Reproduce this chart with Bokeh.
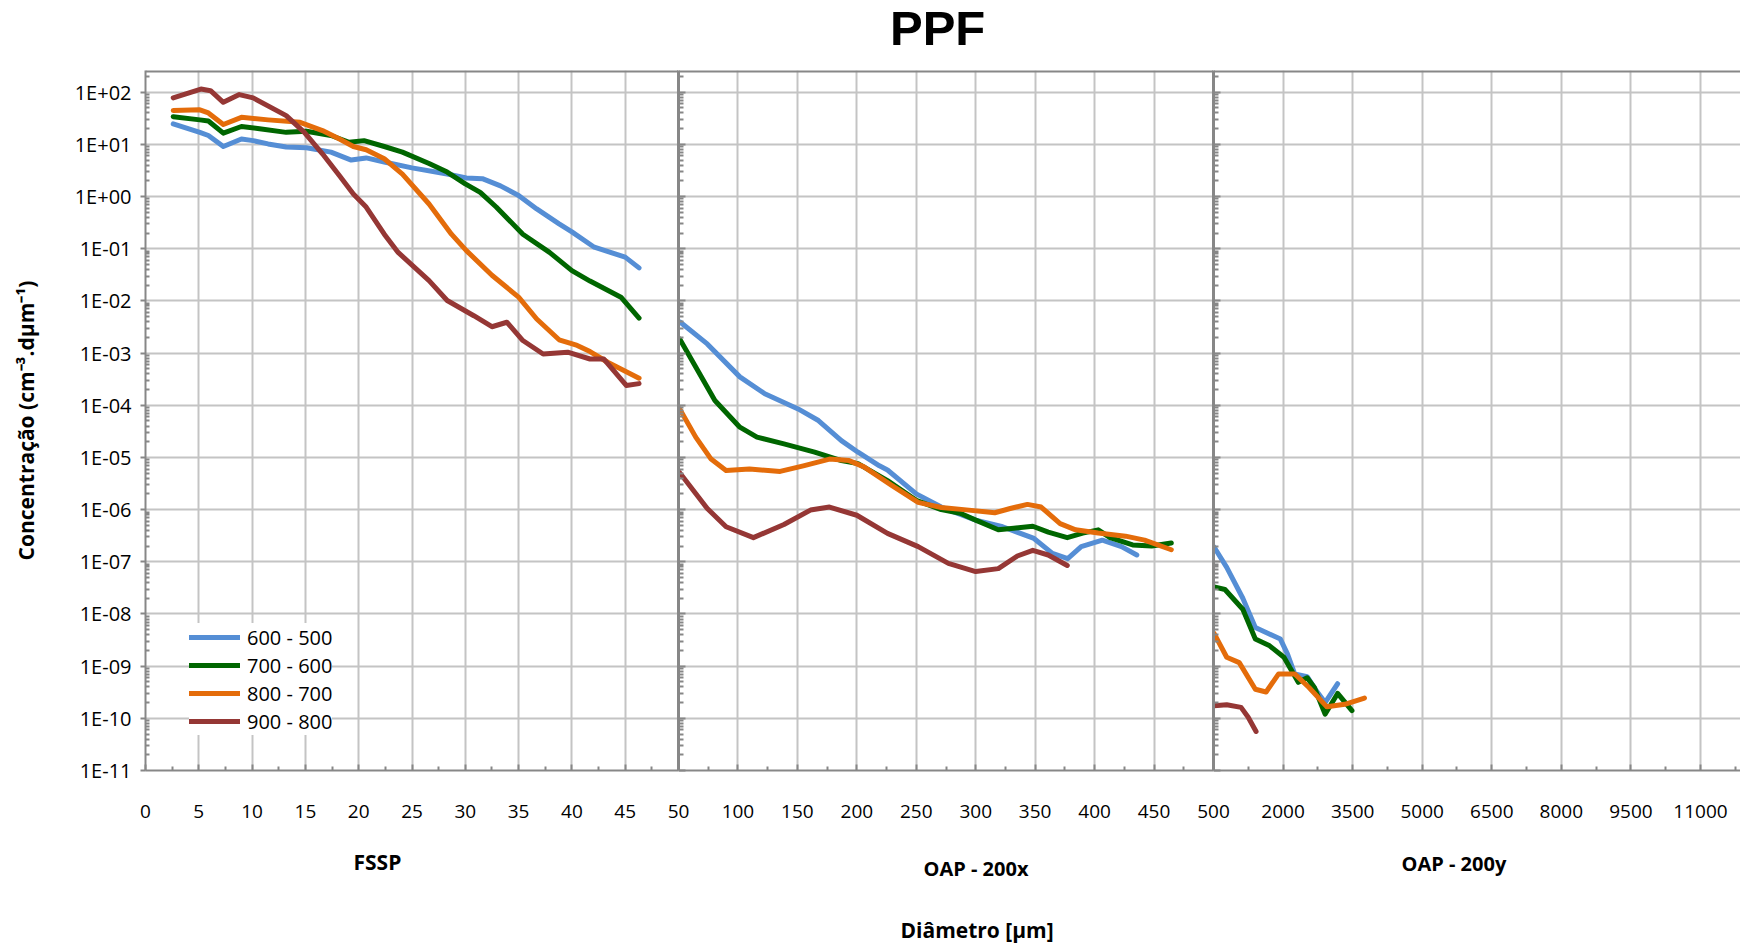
from bokeh.plotting import figure
from bokeh.layouts import row, column
from bokeh.models import (Range1d, FixedTicker, CustomJSTickFormatter, Span, Legend,
                          LegendItem, Title, Div)
from bokeh.embed import file_html
from bokeh.resources import INLINE

# ---------------- data ----------------
series_names = ["600 - 500", "700 - 600", "800 - 700", "900 - 800"]
colors = ["#558ED5", "#006600", "#E46C0A", "#953735"]

# FSSP (diameter 0-50 um)
fssp_x_600 = [2.6, 5.1, 5.9, 7.3, 9.0, 10.1, 11.5, 13.2, 15.1, 17.4, 19.3, 20.7, 22.4, 25.0,
              27.5, 28.3, 30.1, 31.6, 33.3, 35.0, 36.7, 38.8, 40.0, 42.1, 45.0, 46.3]
fssp_y_600 = [24.7, 17, 14.8, 9.1, 12.7, 11.8, 10.2, 8.9, 8.6, 7.1, 5.0, 5.5, 4.6, 3.55,
              2.9, 2.7, 2.28, 2.2, 1.6, 1.05, 0.58, 0.30, 0.21, 0.107, 0.069, 0.043]
fssp_x_700 = [2.6, 5.1, 5.9, 7.3, 9.0, 10.7, 13.2, 15.1, 17.4, 19.1, 20.5, 22.4, 24.1, 26.6,
              28.3, 30.0, 31.4, 32.9, 35.4, 37.9, 40.0, 41.7, 44.6, 46.3]
fssp_y_700 = [34, 29.5, 28, 16.4, 22, 19.9, 17, 17.8, 14.8, 11, 11.8, 9.1, 7.1, 4.3,
              2.95, 1.75, 1.2, 0.63, 0.19, 0.085, 0.038, 0.024, 0.0118, 0.0047]
fssp_x_800 = [2.6, 5.1, 5.9, 7.3, 9.0, 11.5, 14.5, 16.6, 18.2, 19.5, 20.7, 22.4, 24.1, 26.6,
              28.7, 30.1, 32.5, 35.0, 36.7, 38.8, 40.5, 41.7, 43.4, 46.3]
fssp_y_800 = [44.5, 46, 40, 24, 33, 29.5, 26.5, 18.4, 12.7, 9.1, 7.9, 5.3, 2.7, 0.72,
              0.19, 0.092, 0.031, 0.0118, 0.0045, 0.0018, 0.0014, 0.00107, 0.00066, 0.00033]
fssp_x_900 = [2.6, 5.2, 6.1, 7.3, 8.8, 10.1, 13.2, 14.9, 16.6, 18.2, 19.5, 20.7, 22.4, 23.7,
              26.6, 28.3, 30.8, 32.5, 33.9, 35.4, 37.3, 39.6, 41.7, 43.0, 45.1, 46.3]
fssp_y_900 = [78, 115, 107, 64, 90, 78, 35.5, 17, 6.6, 2.5, 1.12, 0.63, 0.19, 0.085,
              0.0245, 0.0102, 0.0052, 0.0032, 0.0039, 0.00174, 0.00096, 0.00104, 0.00077,
              0.00077, 0.00024, 0.00026]

# OAP - 200x (diameter 50-500 um)
oapx_x_600 = [51.6, 74.2, 101.6, 122.6, 150.6, 167.7, 187, 201, 219, 225.8, 250, 271, 300,
              322.6, 349, 364.5, 377.4, 388.7, 406.5, 422.6, 435.5]
oapx_y_600 = [3.9e-3, 1.5e-3, 3.5e-4, 1.66e-4, 8.5e-5, 5.1e-5, 2.1e-5, 1.26e-5, 6.9e-6,
              5.75e-6, 2.0e-6, 1.12e-6, 6.3e-7, 4.7e-7, 2.8e-7, 1.45e-7, 1.15e-7, 1.95e-7,
              2.6e-7, 1.95e-7, 1.35e-7]
oapx_x_700 = [51, 64.5, 80.6, 101.6, 116, 138.7, 164.5, 187, 201, 225.8, 250, 271, 287, 300,
              319, 332, 348, 361, 377, 390, 403, 413, 432, 448, 464.5]
oapx_y_700 = [1.86e-3, 5.4e-4, 1.23e-4, 3.8e-5, 2.45e-5, 1.82e-5, 1.26e-5, 8.7e-6, 7.6e-6,
              3.6e-6, 1.5e-6, 1.0e-6, 8.5e-7, 6.3e-7, 4.1e-7, 4.4e-7, 4.8e-7, 3.7e-7,
              2.9e-7, 3.55e-7, 4.1e-7, 2.9e-7, 2.1e-7, 2.0e-7, 2.3e-7]
oapx_x_800 = [51, 64.5, 77.4, 90, 109.7, 135.5, 155, 177, 193.5, 206, 229, 251.6, 271, 290,
              316, 329, 343.5, 355, 371, 384, 403, 426, 442, 464.5]
oapx_y_800 = [8.5e-5, 2.45e-5, 9.3e-6, 5.6e-6, 6.0e-6, 5.4e-6, 6.9e-6, 9.3e-6, 8.7e-6,
              6.6e-6, 2.95e-6, 1.38e-6, 1.1e-6, 1.0e-6, 8.7e-7, 1.05e-6, 1.26e-6, 1.12e-6,
              5.4e-7, 4.1e-7, 3.55e-7, 3.1e-7, 2.6e-7, 1.7e-7]
oapx_x_900 = [51, 74.2, 90, 113, 138.7, 161, 177, 200, 225.8, 251.6, 277, 300, 319, 335,
              348, 361, 377]
oapx_y_900 = [5.1e-6, 1.05e-6, 4.7e-7, 2.9e-7, 5.2e-7, 9.8e-7, 1.12e-6, 7.8e-7, 3.5e-7,
              1.95e-7, 9.3e-8, 6.5e-8, 7.4e-8, 1.29e-7, 1.66e-7, 1.35e-7, 8.5e-8]

# OAP - 200y (diameter 500+ um)
oapy_x_600 = [515, 785, 1132, 1402, 1634, 1942, 2096, 2250, 2520, 2713, 2906, 3176]
oapy_y_600 = [1.9e-7, 7.8e-8, 2.0e-8, 5.5e-9, 4.4e-9, 3.3e-9, 1.7e-9, 7.1e-10, 6.3e-10,
              3.4e-10, 2.0e-10, 4.6e-10]
oapy_x_700 = [515, 747, 1132, 1402, 1711, 2019, 2328, 2520, 2675, 2906, 3176, 3485]
oapy_y_700 = [3.3e-8, 2.95e-8, 1.23e-8, 3.3e-9, 2.45e-9, 1.48e-9, 4.9e-10, 6.0e-10,
              3.9e-10, 1.2e-10, 3.0e-10, 1.4e-10]
oapy_x_800 = [515, 785, 1055, 1402, 1634, 1904, 2250, 2559, 2945, 3330, 3755]
oapy_y_800 = [4.2e-9, 1.48e-9, 1.17e-9, 3.6e-10, 3.2e-10, 7.1e-10, 7.1e-10, 3.9e-10,
              1.66e-10, 1.86e-10, 2.45e-10]
oapy_x_900 = [515, 785, 1094, 1248, 1418]
oapy_y_900 = [1.74e-10, 1.82e-10, 1.62e-10, 1.05e-10, 5.6e-11]

# tick labels of each panel (first label of a panel is shared with the previous one)
fssp_ticks = [0, 5, 10, 15, 20, 25, 30, 35, 40, 45]
oapx_ticks = [50, 100, 150, 200, 250, 300, 350, 400, 450]
oapy_ticks = [500, 2000, 3500, 5000, 6500, 8000, 9500, 11000]

panel_titles = ["FSSP", "OAP - 200x", "OAP - 200y"]
chart_title = "PPF"
x_title = "Diâmetro [µm]"
y_title = "Concentração (cm⁻³.dµm⁻¹)"

# ---------------- styling ----------------
FONT = "Open Sans"
GRID = "#c4c4c4"
AXIS = "#878787"
Y_START, Y_END = 1e-11, 10 ** 2.416
DIV_H = 55
FIG_H = 890
TOP_B = 70 - DIV_H
BOT_B = 175

y_range = Range1d(Y_START, Y_END)
decades = list(range(-11, 3))
y_major = [10.0 ** k for k in decades]
y_minor = [m * 10.0 ** k for k in decades for m in range(2, 10)]
y_fmt = CustomJSTickFormatter(code="""
const e = Math.round(Math.log10(tick));
const a = Math.abs(e);
return '1E' + (e < 0 ? '-' : '+') + (a < 10 ? '0' : '') + a;
""")
blank_fmt = CustomJSTickFormatter(code="return '';")


def make_panel(width, xr, xticks, left_border, first=False):
    p = figure(width=width, height=FIG_H, x_range=xr, y_range=y_range,
               y_axis_type="log", output_backend="svg", toolbar_location=None,
               min_border_left=left_border, min_border_right=0,
               min_border_top=TOP_B, min_border_bottom=BOT_B)
    p.outline_line_color = None
    p.background_fill_color = "white"
    if first:
        p.border_fill_color = "white"
    else:
        p.border_fill_alpha = 0
        p.margin = (0, 0, 0, -left_border)
    p.xgrid.grid_line_color = GRID
    p.xgrid.grid_line_width = 2
    p.ygrid.grid_line_color = GRID
    p.ygrid.grid_line_width = 2
    step = xticks[1] - xticks[0]
    xa = p.xaxis[0]
    xa.ticker = FixedTicker(ticks=xticks, minor_ticks=[t + step / 2 for t in xticks])
    xa.axis_line_color = AXIS
    xa.axis_line_width = 2
    xa.major_tick_line_color = AXIS
    xa.major_tick_line_width = 2
    xa.minor_tick_line_color = AXIS
    xa.minor_tick_line_width = 2
    xa.major_tick_in = 6
    xa.major_tick_out = 0
    xa.minor_tick_in = 4
    xa.minor_tick_out = 0
    xa.major_label_standoff = 34
    xa.major_label_text_font = FONT
    xa.major_label_text_font_size = "19px"
    xa.major_label_text_color = "black"
    ya = p.yaxis[0]
    ya.ticker = FixedTicker(ticks=y_major, minor_ticks=y_minor)
    ya.axis_line_color = AXIS
    ya.major_tick_line_color = AXIS
    ya.minor_tick_line_color = AXIS
    ya.major_tick_line_width = 2
    ya.minor_tick_line_width = 2
    ya.minor_tick_in = 4
    ya.minor_tick_out = 0
    if first:
        ya.formatter = y_fmt
        ya.axis_line_width = 2
        ya.major_tick_out = 5
        ya.major_tick_in = 0
        ya.major_label_standoff = 9
        ya.major_label_text_font = FONT
        ya.major_label_text_font_size = "20px"
        ya.major_label_text_color = "black"
        ya.axis_label = y_title
        ya.axis_label_text_font = FONT
        ya.axis_label_text_font_size = "21px"
        ya.axis_label_text_font_style = "bold"
        ya.axis_label_text_color = "black"
        ya.axis_label_standoff = 32
    else:
        ya.formatter = blank_fmt
        ya.axis_line_width = 3
        ya.major_tick_out = 0
        ya.major_tick_in = 7
        ya.minor_tick_in = 5
        ya.major_label_standoff = 0
    p.add_layout(Span(location=Y_END, dimension="width", line_color=AXIS, line_width=4))
    return p


def below_title(p, txt, offset, standoff, size="20px"):
    p.add_layout(Title(text=txt, align="left", offset=offset, standoff=standoff,
                       text_font=FONT, text_font_size=size, text_font_style="bold",
                       text_color="black"), "below")


p1 = make_panel(145 + 533, Range1d(0, 50), fssp_ticks, 145, first=True)
p2 = make_panel(40 + 535, Range1d(50, 500), oapx_ticks, 40)
p3 = make_panel(40 + 527, Range1d(500, 500 + 527 * 1500 / 69.57), oapy_ticks, 40)

p1.add_layout(Span(location=50, dimension="height", line_color=AXIS, line_width=3))

panels = [
    (p1, [(fssp_x_600, fssp_y_600), (fssp_x_700, fssp_y_700), (fssp_x_800, fssp_y_800), (fssp_x_900, fssp_y_900)]),
    (p2, [(oapx_x_600, oapx_y_600), (oapx_x_700, oapx_y_700), (oapx_x_800, oapx_y_800), (oapx_x_900, oapx_y_900)]),
    (p3, [(oapy_x_600, oapy_y_600), (oapy_x_700, oapy_y_700), (oapy_x_800, oapy_y_800), (oapy_x_900, oapy_y_900)]),
]
legend_renderers = []
for p, series in panels:
    for i, (xs, ys) in enumerate(series):
        r = p.line(xs, ys, line_color=colors[i], line_width=5, line_join="round", line_cap="round")
        if p is p1:
            legend_renderers.append(r)

legend = Legend(items=[LegendItem(label=series_names[i], renderers=[legend_renderers[i]]) for i in range(4)],
                location=(44, 35))
legend.background_fill_color = "white"
legend.background_fill_alpha = 1
legend.border_line_color = None
legend.padding = 4
legend.margin = 0
legend.spacing = 0
legend.glyph_width = 51
legend.glyph_height = 28
legend.label_height = 28
legend.label_standoff = 7
legend.label_text_font = FONT
legend.label_text_font_size = "20px"
legend.label_text_color = "black"
p1.add_layout(legend)

below_title(p1, panel_titles[0], 208, 51, "21px")
below_title(p2, panel_titles[1], 245, 64)
below_title(p2, x_title, 222, 0, "21px")
below_title(p3, panel_titles[2], 188, 55)

title_div = Div(
    text=('<div style="position:relative;left:890px;top:4px;'
          'font:bold 49px/49px \'Liberation Sans\',sans-serif;color:#000;white-space:nowrap">'
          + chart_title + '</div>'),
    width=1740, height=DIV_H, margin=0)

layout = column(title_div, row(p1, p2, p3, spacing=0), spacing=0)
open("out.html", "w").write(file_html(layout, INLINE))
